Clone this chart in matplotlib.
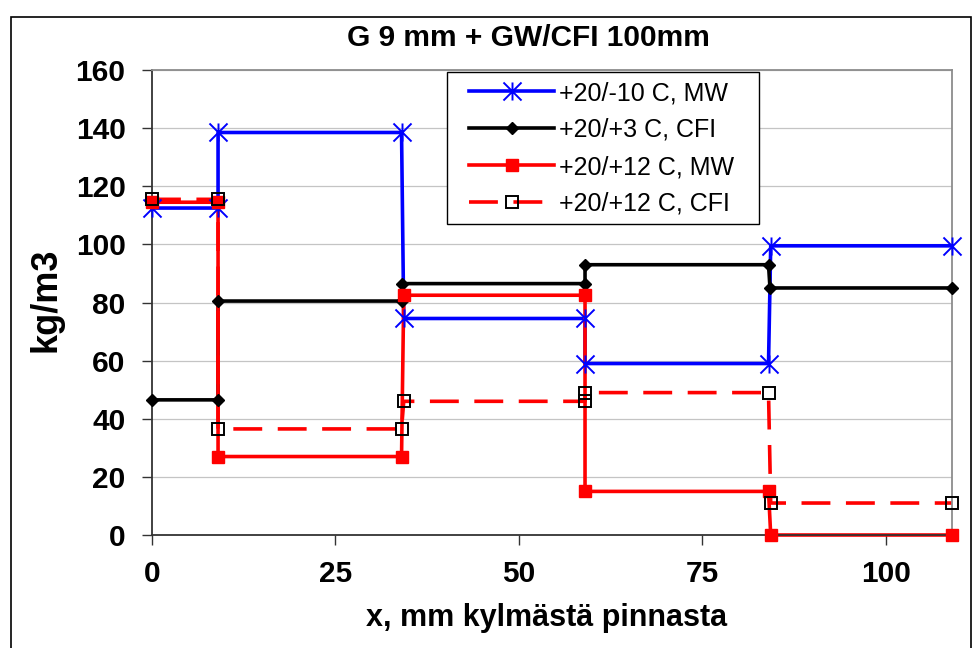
import matplotlib
matplotlib.use("Agg")
import matplotlib.pyplot as plt
from matplotlib.lines import Line2D
from matplotlib.path import Path
from matplotlib.patches import Rectangle

plt.rcParams['font.family'] = ['Liberation Sans', 'DejaVu Sans']

# step profiles (x in mm from the cold surface, density in kg/m3)
blue_x = [0, 9, 9, 34, 34.3, 59, 59, 84, 84.3, 109]
blue_y = [112.5, 112.5, 138.5, 138.5, 74.5, 74.5, 59, 59, 99.5, 99.5]

black_x = [0, 9, 9, 34, 34.1, 59, 59, 84, 84.2, 109]
black_y = [46.5, 46.5, 80.5, 80.5, 86.5, 86.5, 93, 93, 85, 85]

red_x = [0, 9, 9, 34, 34.3, 59, 59, 84, 84.3, 109]
red_y = [114.5, 114.5, 27, 27, 82.5, 82.5, 15, 15, 0, 0]

dash_x = [0, 9, 9, 34, 34.3, 59, 59, 84, 84.3, 109]
dash_y = [115.5, 115.5, 36.5, 36.5, 46, 46, 49, 49, 11, 11]

labels = ['+20/-10 C, MW', '+20/+3 C, CFI', '+20/+12 C, MW', '+20/+12 C, CFI']
x_ticks = [0, 25, 50, 75, 100]
y_ticks = [0, 20, 40, 60, 80, 100, 120, 140, 160]

# excel-like star: an X plus a vertical bar
star = Path([(-1, -1), (1, 1), (-1, 1), (1, -1), (0, -1), (0, 1)],
            [Path.MOVETO, Path.LINETO, Path.MOVETO, Path.LINETO, Path.MOVETO, Path.LINETO])

styles = [
    dict(color='#0000ff', ls='-', marker=star, ms=13, mfc='none', mec='#0000ff', mew=1.4),
    dict(color='black', ls='-', marker='D', ms=6.5, mfc='black', mec='black', mew=1),
    dict(color='#ff0000', ls='-', marker='s', ms=8, mfc='#ff0000', mec='#ff0000', mew=1),
    dict(color='#ff0000', ls=(0, (8, 4.3)), marker='s', ms=8.5, mfc='none', mec='black', mew=1.4),
]
series = [(blue_x, blue_y), (black_x, black_y), (red_x, red_y), (dash_x, dash_y)]

W, H = 973, 648
fig = plt.figure(figsize=(W / 100, H / 100), dpi=100)
ax = fig.add_axes([152 / W, 1 - 535 / H, 800 / W, 465 / H])

lw = 2.6
handles = []
for i, ((xs, ys), st) in enumerate(zip(series, styles)):
    ax.plot(xs, ys, color=st['color'], ls=st['ls'], lw=lw, dash_capstyle='butt',
            zorder=2 + i * 0.1, clip_on=False)
for i, ((xs, ys), st) in enumerate(zip(series, styles)):
    ax.plot(xs, ys, ls='none', marker=st['marker'], ms=st['ms'], mfc=st['mfc'],
            mec=st['mec'], mew=st['mew'], zorder=4 + i * 0.1, clip_on=False)
    handles.append(Line2D([], [], color=st['color'], ls=st['ls'], lw=lw,
                          dash_capstyle='butt', marker=st['marker'], ms=st['ms'],
                          mfc=st['mfc'], mec=st['mec'], mew=st['mew']))

ax.set_xlim(0, 109)
ax.set_ylim(0, 160)
ax.set_xticks(x_ticks)
ax.set_yticks(y_ticks)
ax.yaxis.grid(True, color='#c4c4c4', lw=0.9)
ax.set_axisbelow(True)

for side in ['left', 'bottom']:
    ax.spines[side].set_color('#333333')
    ax.spines[side].set_linewidth(1.3)
for side in ['top', 'right']:
    ax.spines[side].set_color('#8c8c8c')
    ax.spines[side].set_linewidth(1.3)

ax.tick_params(axis='both', direction='out', length=7, width=1, color='#333333',
               labelsize=21.5)
ax.tick_params(axis='x', pad=11)
ax.tick_params(axis='y', pad=12)
for t in ax.get_xticklabels() + ax.get_yticklabels():
    t.set_fontweight('bold')

# legend box drawn by hand so its size matches the original
def px_to_ax(px, py):
    return (px - 152) / 800, (535 - py) / 465

bx0, by0 = px_to_ax(447, 224)
bx1, by1 = px_to_ax(759, 72)
ax.add_patch(Rectangle((bx0, by0), bx1 - bx0, by1 - by0, transform=ax.transAxes,
                       fc='white', ec='black', lw=1.0, zorder=9, clip_on=False))
lx, ly = px_to_ax(469, 81)
leg = ax.legend(handles, labels, loc='upper left', bbox_to_anchor=(lx, ly),
                fontsize=18, numpoints=1, handlelength=3.4, handletextpad=0.2,
                labelspacing=0.52, borderpad=0, borderaxespad=0, frameon=False)
leg.set_zorder(10)

fig.text(528 / W, 1 - 38 / H, 'G 9 mm + GW/CFI 100mm', ha='center', va='center',
         fontsize=21.5, fontweight='bold')
fig.text(46 / W, 1 - 300 / H, 'kg/m3', ha='center', va='center', rotation=90,
         fontsize=26, fontweight='bold')
fig.text(547 / W, 1 - 626 / H, 'x, mm kylmästä pinnasta', ha='center', va='baseline',
         fontsize=22, fontweight='bold')

fig.patches.append(Rectangle((11 / W, -0.05), 960 / W, 1.05 - 17 / H,
                             transform=fig.transFigure, fill=False, ec='black', lw=1.2))

fig.savefig('out.png', dpi=100)
